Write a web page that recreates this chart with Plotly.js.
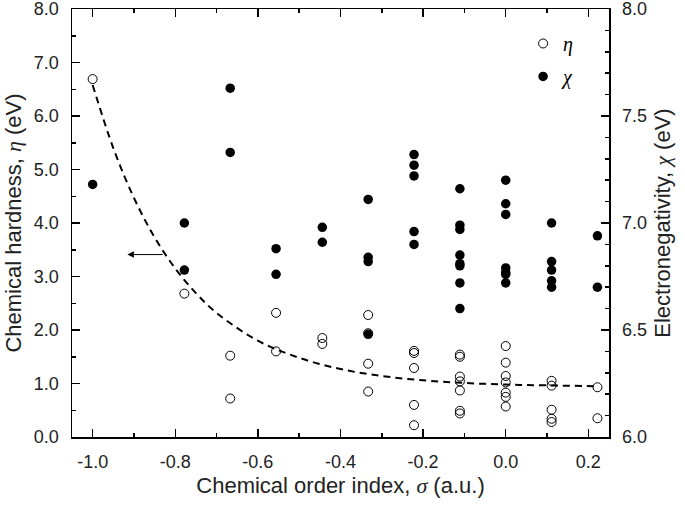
<!DOCTYPE html>
<html>
<head>
<meta charset="utf-8">
<script src="https://cdn.plot.ly/plotly-3.0.1.min.js"></script>
<style>html,body{margin:0;padding:0;background:#fff;}#chart{width:685px;height:506px;}</style>
</head>
<body>
<div id="chart"></div>
<script>
// Chemical hardness eta (left axis, eV) - open circles
const etaX = [-1.0,
  -0.778,
  -0.667, -0.667,
  -0.556, -0.556,
  -0.444, -0.444,
  -0.333, -0.333, -0.333, -0.333,
  -0.222, -0.222, -0.222, -0.222, -0.222,
  -0.111, -0.111, -0.111, -0.111, -0.111, -0.111, -0.111,
  0.0, 0.0, 0.0, 0.0, 0.0, 0.0, 0.0,
  0.111, 0.111, 0.111, 0.111, 0.111,
  0.222, 0.222];
const etaY = [6.69,
  2.68,
  1.52, 0.72,
  2.32, 1.60,
  1.85, 1.74,
  2.28, 1.94, 1.37, 0.85,
  1.61, 1.57, 1.29, 0.60, 0.22,
  1.54, 1.50, 1.13, 1.04, 0.87, 0.49, 0.44,
  1.70, 1.39, 1.14, 1.02, 0.83, 0.75, 0.57,
  1.05, 0.96, 0.51, 0.34, 0.28,
  0.93, 0.35];

// Electronegativity chi (right axis, eV) - filled circles
const chiX = [-1.0,
  -0.778, -0.778,
  -0.667, -0.667,
  -0.556, -0.556,
  -0.444, -0.444,
  -0.333, -0.333, -0.333, -0.333,
  -0.222, -0.222, -0.222, -0.222, -0.222,
  -0.111, -0.111, -0.111, -0.111, -0.111, -0.111, -0.111, -0.111,
  0.0, 0.0, 0.0, 0.0, 0.0, 0.0, 0.0,
  0.111, 0.111, 0.111, 0.111, 0.111,
  0.222, 0.222];
const chiY = [7.18,
  7.00, 6.78,
  7.63, 7.33,
  6.88, 6.76,
  6.98, 6.91,
  7.11, 6.84, 6.82, 6.48,
  7.32, 7.27, 7.22, 6.96, 6.90,
  7.16, 6.99, 6.97, 6.85, 6.81, 6.80, 6.72, 6.60,
  7.20, 7.09, 7.04, 6.79, 6.77, 6.76, 6.72,
  7.00, 6.82, 6.78, 6.73, 6.70,
  6.94, 6.70];

// Dashed trend curve for eta
const fitX = [-1.0, -0.95, -0.9, -0.85, -0.8, -0.75, -0.7, -0.6, -0.5, -0.4, -0.3, -0.2, -0.1, 0.0, 0.1, 0.222];
const fitY = [6.58, 5.40, 4.47, 3.73, 3.15, 2.69, 2.32, 1.80, 1.48, 1.27, 1.14, 1.06, 1.01, 0.98, 0.965, 0.95];

// Arrow pointing at the left axis
const arrowTail = [-0.827, 3.41];
const arrowHead = [-0.916, 3.41];

const xTickVals = [-1.0, -0.8, -0.6, -0.4, -0.2, 0.0, 0.2];
const xTickText = ['-1.0', '-0.8', '-0.6', '-0.4', '-0.2', '0.0', '0.2'];
const yTickVals = [0, 1, 2, 3, 4, 5, 6, 7, 8];
const yTickText = ['0.0', '1.0', '2.0', '3.0', '4.0', '5.0', '6.0', '7.0', '8.0'];
const y2TickVals = [6.0, 6.5, 7.0, 7.5, 8.0];
const y2TickText = ['6.0', '6.5', '7.0', '7.5', '8.0'];

const FONT = 'Liberation Sans, Arial, sans-serif';
const GREEK = 'Liberation Serif';

const traces = [
  {
    x: fitX, y: fitY, mode: 'lines', type: 'scatter', yaxis: 'y',
    line: {color: '#000', width: 2, dash: '7px,5px', shape: 'spline'},
    showlegend: false, hoverinfo: 'skip'
  },
  {
    x: etaX, y: etaY, mode: 'markers', type: 'scatter', yaxis: 'y',
    name: '<i>η</i>',
    legendgroup: 'a',
    marker: {symbol: 'circle-open', size: 9, color: '#000', line: {width: 1, color: '#000'}}
  },
  {
    x: chiX, y: chiY, mode: 'markers', type: 'scatter', yaxis: 'y2',
    name: '<i>χ</i>',
    legendgroup: 'b',
    marker: {symbol: 'circle', size: 9.5, color: '#000'}
  }
];

const axisCommon = {
  showline: true, linecolor: '#000', linewidth: 1.5,
  ticks: 'inside', ticklen: 8, tickwidth: 1.5, tickcolor: '#000',
  showgrid: false, zeroline: false,
  ticklabeloverflow: 'allow',
  tickfont: {family: FONT, size: 18, color: '#222'}
};

const layout = {
  width: 685, height: 506,
  margin: {l: 72, r: 76, t: 9, b: 69},
  paper_bgcolor: '#fff', plot_bgcolor: '#fff',
  font: {family: FONT, color: '#222'},
  showlegend: true,
  legend: {
    x: 0.84, y: 0.965, xanchor: 'left', yanchor: 'top',
    bgcolor: 'rgba(0,0,0,0)', borderwidth: 0,
    font: {family: GREEK, size: 20, color: '#000'},
    traceorder: 'grouped', tracegroupgap: 4
  },
  xaxis: Object.assign({}, axisCommon, {
    range: [-1.05, 0.25], mirror: 'ticks',
    tickvals: xTickVals, ticktext: xTickText,
    ticklabelstandoff: 8,
    minor: {dtick: 0.1, ticklen: 4, tickwidth: 1.5, tickcolor: '#000', ticks: 'inside', showgrid: false},
    title: {text: 'Chemical order index, <span style="font-family:Liberation Serif"><i>σ</i></span> (a.u.)', font: {family: FONT, size: 22, color: '#222'}, standoff: 6}
  }),
  yaxis: Object.assign({}, axisCommon, {
    range: [0, 8], tickvals: yTickVals, ticktext: yTickText,
    ticklabelstandoff: 8,
    minor: {dtick: 0.5, ticklen: 4, tickwidth: 1.5, tickcolor: '#000', ticks: 'inside', showgrid: false},
    title: {text: 'Chemical hardness, <span style="font-family:Liberation Serif"><i>η</i></span> (eV)', font: {family: FONT, size: 22, color: '#222'}, standoff: 6}
  }),
  yaxis2: Object.assign({}, axisCommon, {
    overlaying: 'y', side: 'right',
    range: [6, 8], tickvals: y2TickVals, ticktext: y2TickText,
    ticklabelstandoff: 8,
    minor: {dtick: 0.1, ticklen: 4, tickwidth: 1.5, tickcolor: '#000', ticks: 'inside', showgrid: false},
    title: {text: 'Electronegativity, <span style="font-family:Liberation Serif"><i>χ</i></span> (eV)', font: {family: FONT, size: 22, color: '#222'}, standoff: 8}
  }),
  annotations: [{
    x: arrowHead[0], y: arrowHead[1], xref: 'x', yref: 'y',
    ax: arrowTail[0], ay: arrowTail[1], axref: 'x', ayref: 'y',
    text: '', showarrow: true, arrowhead: 2, arrowsize: 1.3, arrowwidth: 1, arrowcolor: '#000'
  }]
};

Plotly.newPlot('chart', traces, layout, {displayModeBar: false, staticPlot: true});
</script>
</body>
</html>
